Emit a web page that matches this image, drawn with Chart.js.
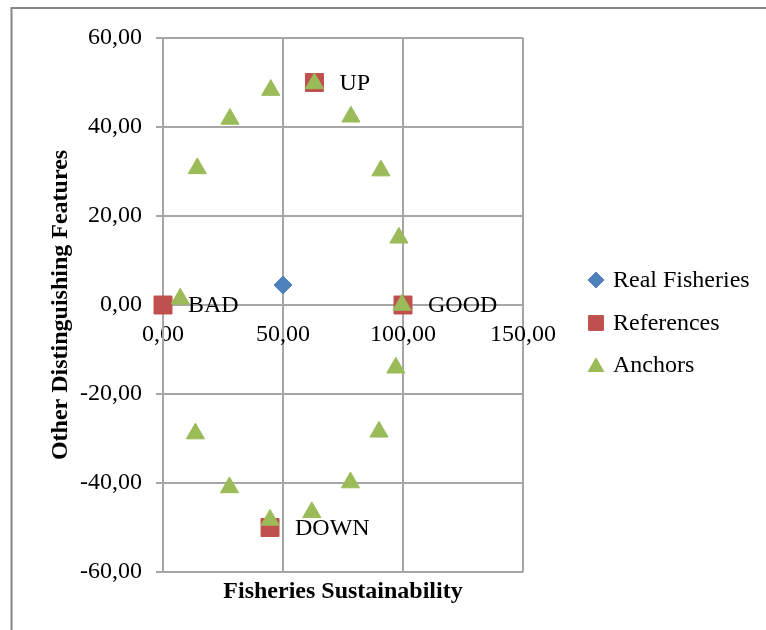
<!DOCTYPE html>
<html>
<head>
<meta charset="utf-8">
<script src="https://cdn.jsdelivr.net/npm/chart.js@4.4.1/dist/chart.umd.min.js"></script>
<style>
  html, body { margin: 0; padding: 0; background: #fff; }
  #wrap { width: 766px; height: 630px; position: relative; }
</style>
</head>
<body>
<div id="wrap"><canvas id="rapCanvas" width="766" height="630"></canvas></div>
<script>
// values
const realX = [50.0];
const realY = [4.5];

const refNames = ["BAD", "GOOD", "UP", "DOWN"];
const refX = [0, 100, 63.1, 44.6];
const refY = [0, 0, 50, -50];

const anchorX = [7.2, 14.3, 27.9, 44.9, 63.1, 78.3, 90.8, 98.3, 99.6, 97.0, 90.0, 78.1, 62.0, 44.6, 27.7, 13.5];
const anchorY = [1.4, 30.7, 41.8, 48.3, 49.8, 42.3, 30.2, 15.1, 0, -14.1, -28.5, -39.9, -46.6, -48.3, -41.0, -28.9];

const xTicks = [0, 50, 100, 150];
const yTicks = [-60, -40, -20, 0, 20, 40, 60];

const seriesNames = ["Real Fisheries", "References", "Anchors"];

const FONT = "'Liberation Serif', 'Times New Roman', serif";
const GRID = "#a6a6a6";

const toPoints = (xs, ys) => xs.map((x, i) => ({ x: x, y: ys[i] }));
const fmt = (v) => Number(v).toFixed(2).replace(".", ",");

// outer frame (top + left edges only, the rest is cropped)
const framePlugin = {
  id: "frame",
  beforeDraw: (chart) => {
    const { ctx } = chart;
    ctx.save();
    ctx.strokeStyle = "#868686";
    ctx.lineWidth = 2;
    ctx.beginPath();
    ctx.moveTo(11.5, 630);
    ctx.lineTo(11.5, 8);
    ctx.lineTo(766, 8);
    ctx.stroke();
    ctx.restore();
  },
};

// BAD / GOOD / UP / DOWN next to the reference squares
const refLabelPlugin = {
  id: "refLabels",
  afterDatasetsDraw: (chart) => {
    const { ctx } = chart;
    const meta = chart.getDatasetMeta(1);
    ctx.save();
    ctx.font = "24px " + FONT;
    ctx.fillStyle = "#000";
    ctx.textAlign = "left";
    ctx.textBaseline = "middle";
    meta.data.forEach((pt, i) => {
      ctx.fillText(refNames[i], pt.x + 25, pt.y + 1);
    });
    ctx.restore();
  },
};

// legend on the right
const legendPlugin = {
  id: "sideLegend",
  afterDraw: (chart) => {
    const { ctx } = chart;
    const rows = [280, 323, 365];
    ctx.save();
    ctx.font = "24px " + FONT;
    ctx.fillStyle = "#000";
    ctx.textAlign = "left";
    ctx.textBaseline = "middle";
    chart.data.datasets.forEach((ds, i) => {
      ctx.save();
      ctx.fillStyle = ds.backgroundColor;
      ctx.strokeStyle = ds.borderColor;
      ctx.lineWidth = 1;
      const r = ds.pointStyle === "rect" ? 10.5 : (ds.pointStyle === "triangle" ? 9 : 8);
      const dy = ds.pointStyle === "triangle" ? 2 : 0;
      Chart.helpers.drawPoint(ctx, { pointStyle: ds.pointStyle, radius: r, rotation: 0, borderWidth: 1 }, 596, rows[i] + dy);
      ctx.restore();
      ctx.fillText(ds.label, 613, rows[i] + 1);
    });
    ctx.restore();
  },
};

const rapChart = new Chart(document.getElementById("rapCanvas"), {
  type: "scatter",
  data: {
    datasets: [
      {
        label: seriesNames[0],
        data: toPoints(realX, realY),
        pointStyle: "rectRot",
        pointRadius: 9,
        backgroundColor: "#4f81bd",
        borderColor: "#4f81bd",
        borderWidth: 1,
        clip: false,
        order: 2,
        xAxisID: "x",
        yAxisID: "y",
      },
      {
        label: seriesNames[1],
        data: toPoints(refX, refY),
        pointStyle: "rect",
        pointRadius: 12.7,
        backgroundColor: "#c0504d",
        borderColor: "#c0504d",
        borderWidth: 1,
        clip: false,
        order: 1,
        xAxisID: "x",
        yAxisID: "y",
      },
      {
        label: seriesNames[2],
        data: toPoints(anchorX, anchorY),
        pointStyle: "triangle",
        pointRadius: 10.5,
        backgroundColor: "#9bbb59",
        borderColor: "#9bbb59",
        borderWidth: 1,
        clip: false,
        order: 0,
        xAxisID: "x",
        yAxisID: "y",
      },
    ],
  },
  options: {
    responsive: false,
    animation: false,
    events: [],
    layout: { padding: { left: 44, top: 38, right: 243, bottom: 0 } },
    plugins: {
      legend: { display: false },
      tooltip: { enabled: false },
    },
    scales: {
      x: {
        type: "linear",
        position: { y: 0 },
        min: 0,
        max: 150,
        afterBuildTicks: (scale) => {
          scale.ticks = xTicks.map((v) => ({ value: v }));
        },
        ticks: {
          padding: 8,
          color: "#000",
          font: { family: FONT, size: 24 },
          maxRotation: 0,
          callback: (v) => fmt(v),
        },
        grid: { color: GRID, lineWidth: 2, tickLength: 7 },
        border: { color: GRID, width: 2 },
      },
      x2: {
        type: "linear",
        position: "bottom",
        display: true,
        ticks: { display: false },
        grid: { display: false, drawTicks: false },
        border: { display: false },
        afterFit: (scale) => {
          scale.height = 58;
        },
        title: {
          display: true,
          text: "Fisheries Sustainability",
          color: "#000",
          font: { family: FONT, size: 24, weight: "bold" },
          padding: { top: 0, bottom: 24 },
        },
      },
      y: {
        type: "linear",
        position: "left",
        min: -60,
        max: 60,
        afterBuildTicks: (scale) => {
          scale.ticks = yTicks.map((v) => ({ value: v }));
        },
        afterFit: (scale) => {
          scale.width = 119;
        },
        ticks: {
          padding: 14,
          color: "#000",
          font: { family: FONT, size: 24 },
          callback: (v) => fmt(v),
        },
        grid: { color: GRID, lineWidth: 2, tickLength: 7 },
        border: { color: GRID, width: 2 },
        title: {
          display: true,
          text: "Other Distinguishing Features",
          color: "#000",
          font: { family: FONT, size: 24, weight: "bold" },
          padding: { top: 2, bottom: 0 },
        },
      },
    },
  },
  plugins: [framePlugin, refLabelPlugin, legendPlugin],
});
</script>
</body>
</html>
